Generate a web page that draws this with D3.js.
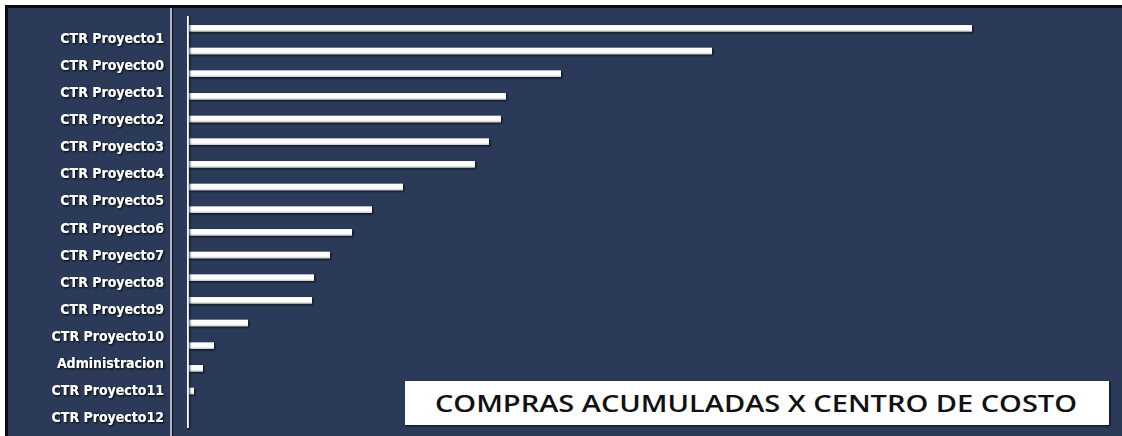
<!DOCTYPE html>
<html>
<head>
<meta charset="utf-8">
<script src="https://cdn.jsdelivr.net/npm/d3@7"></script>
<style>
  html, body { margin: 0; padding: 0; background: #ffffff; }
  svg { display: block; }
</style>
</head>
<body>
<svg id="chart" width="1122" height="436"></svg>
<script>
// Row labels shown down the left side
const centros = [
  "CTR Proyecto1", "CTR Proyecto0", "CTR Proyecto1", "CTR Proyecto2",
  "CTR Proyecto3", "CTR Proyecto4", "CTR Proyecto5", "CTR Proyecto6",
  "CTR Proyecto7", "CTR Proyecto8", "CTR Proyecto9", "CTR Proyecto10",
  "Administracion", "CTR Proyecto11", "CTR Proyecto12"
];

// Accumulated purchases per bar, largest first
const compras = [783, 523, 372, 317, 312, 300, 286, 214, 183, 163, 141, 125, 123, 59, 25, 14, 5, 0];

const titulo = "COMPRAS ACUMULADAS X CENTRO DE COSTO";

const W = 1122, H = 436;
const navy = "#2b3a58";

const svg = d3.select("#chart");
const defs = svg.append("defs");

// soft dark shadow used under bars, axis and the title box
const sh = defs.append("filter").attr("id", "sombra")
  .attr("filterUnits", "userSpaceOnUse")
  .attr("x", 0).attr("y", 0).attr("width", W).attr("height", H);
sh.append("feDropShadow").attr("dx", 1).attr("dy", 1)
  .attr("stdDeviation", 1.1).attr("flood-color", "#05080f").attr("flood-opacity", 0.95);

const shT = defs.append("filter").attr("id", "sombraTexto")
  .attr("filterUnits", "userSpaceOnUse")
  .attr("x", 0).attr("y", 0).attr("width", W).attr("height", H);
shT.append("feDropShadow").attr("dx", 1).attr("dy", 1)
  .attr("stdDeviation", 0.9).attr("flood-color", "#000000").attr("flood-opacity", 1);

const grad = defs.append("linearGradient").attr("id", "barra")
  .attr("x1", 0).attr("y1", 0).attr("x2", 0).attr("y2", 1);
grad.append("stop").attr("offset", "0%").attr("stop-color", "#ffffff");
grad.append("stop").attr("offset", "65%").attr("stop-color", "#ffffff");
grad.append("stop").attr("offset", "100%").attr("stop-color", "#c9ccd2");

// panel with black frame on top and left
svg.append("rect").attr("x", 0).attr("y", 0).attr("width", W).attr("height", H).attr("fill", "#ffffff");
svg.append("rect").attr("x", 5).attr("y", 5).attr("width", W - 5).attr("height", H - 5).attr("fill", "#0b0b0b");
svg.append("rect").attr("x", 8).attr("y", 8).attr("width", W - 8).attr("height", H - 8).attr("fill", navy);

// divider between label column and plot
svg.append("line").attr("x1", 171).attr("x2", 171).attr("y1", 8).attr("y2", H)
  .attr("stroke", "#aeb3bd").attr("stroke-width", 2);
svg.append("line").attr("x1", 172.6).attr("x2", 172.6).attr("y1", 8).attr("y2", H)
  .attr("stroke", "#11182a").attr("stroke-width", 1.2);

// scales
const x = d3.scaleLinear().domain([0, 800]).range([189, 989]);
const y = d3.scaleBand().domain(d3.range(compras.length))
  .range([17, 425]).paddingInner(0.71).paddingOuter(0.355);
const yLab = d3.scalePoint().domain(d3.range(centros.length)).range([38, 417]);

// bars
svg.append("g").attr("filter", "url(#sombra)")
  .selectAll("rect").data(compras).join("rect")
  .attr("x", x(0))
  .attr("y", (d, i) => y(i))
  .attr("width", d => x(d) - x(0))
  .attr("height", y.bandwidth())
  .attr("fill", "url(#barra)");

// vertical axis line
const axis = svg.append("g").attr("transform", `translate(${x(0) - 1.5},0)`)
  .attr("filter", "url(#sombra)")
  .call(d3.axisLeft(y).tickSize(0).tickSizeOuter(0).tickFormat(""));
axis.select(".domain").attr("stroke", "#ffffff").attr("stroke-width", 2.4)
  .attr("d", `M0,${y.range()[0] - 1}V${y.range()[1] + 3}`);
axis.selectAll(".tick").remove();

// row labels
svg.append("g").attr("filter", "url(#sombraTexto)")
  .selectAll("text").data(centros).join("text")
  .attr("x", 164)
  .attr("y", (d, i) => yLab(i))
  .attr("dy", "0.36em")
  .attr("text-anchor", "end")
  .attr("font-family", "'DejaVu Sans Condensed', 'DejaVu Sans', sans-serif")
  .attr("font-weight", "bold")
  .attr("font-size", 14)
  .attr("fill", "#ffffff")
  .text(d => d);

// title box
svg.append("rect").attr("x", 405).attr("y", 381).attr("width", 704).attr("height", 44)
  .attr("fill", "#ffffff").attr("filter", "url(#sombra)");
svg.append("text").attr("x", 756).attr("y", 404).attr("dy", "0.36em")
  .attr("text-anchor", "middle")
  .attr("font-family", "'Open Sans', 'DejaVu Sans', sans-serif")
  .attr("font-size", 23)
  .attr("font-weight", 600)
  .attr("fill", "#111111")
  .attr("textLength", 642).attr("lengthAdjust", "spacingAndGlyphs")
  .text(titulo);
</script>
</body>
</html>
